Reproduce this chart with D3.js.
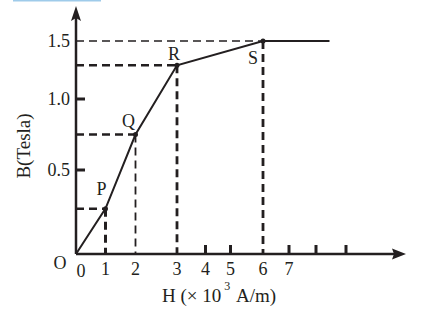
<!DOCTYPE html>
<html lang="en">
<head>
<meta charset="UTF-8">
<title>B-H curve</title>
<script src="https://d3js.org/d3.v7.min.js"></script>
<style>
    body { margin: 0; background: #fff; }
    svg text { font-family: "Liberation Serif", "Times New Roman", serif; fill: #231f20; }
</style>
</head>
<body>
<div id="chart"></div>
<script>
    // data
    const pointNames = ["P", "Q", "R", "S"];
    const hValues = [1, 2, 3, 6];          // x 10^3 A/m
    const bValues = [0.27, 0.75, 1.29, 1.5]; // Tesla
    const curveEnd = [8.45, 1.5];
    const xTickLabels = [0, 1, 2, 3, 4, 5, 6, 7];
    const xTickMarks = [4, 5, 7, 8, 9];
    const yTickLabels = [0.5, 1.0, 1.5];
    const yTickMarks = [0.5, 1.0];

    const W = 424, H = 309;
    const ink = "#231f20";

    const svg = d3.select("#chart").append("svg")
        .attr("width", W).attr("height", H);

    // the axes in the drawing are not evenly spaced, so piecewise scales
    const x = d3.scaleLinear()
        .domain([0, 1, 2, 3, 4, 5, 6, 7, 8, 9])
        .range([76, 105.5, 135.5, 177, 205.5, 230.5, 263, 289, 316, 346]);
    const y = d3.scaleLinear()
        .domain([0, 0.5, 1, 1.5])
        .range([254, 170, 99, 41]);

    // light blue bar at the very top
    svg.append("rect")
        .attr("x", 13).attr("y", 0).attr("width", 88).attr("height", 1.5)
        .attr("fill", "#9fcbea");

    const pts = pointNames.map((n, i) => ({name: n, h: hValues[i], b: bValues[i]}));

    // dashed guides
    const hWidth = {P: 2.5, Q: 2.5, R: 2.5, S: 1.6};
    const vWidth = {P: 3, Q: 1.8, R: 2.8, S: 2.8};
    pts.forEach(p => {
        svg.append("line")
            .attr("x1", x(0)).attr("x2", x(p.h))
            .attr("y1", y(p.b)).attr("y2", y(p.b))
            .attr("stroke", ink).attr("stroke-width", hWidth[p.name])
            .attr("stroke-dasharray", "8,5");
        svg.append("line")
            .attr("x1", x(p.h)).attr("x2", x(p.h))
            .attr("y1", y(p.b)).attr("y2", y(0))
            .attr("stroke", ink).attr("stroke-width", vWidth[p.name])
            .attr("stroke-dasharray", "8,5");
    });

    // axes with arrow heads
    svg.append("line")
        .attr("x1", x(0)).attr("x2", 396)
        .attr("y1", y(0)).attr("y2", y(0))
        .attr("stroke", ink).attr("stroke-width", 2.5);
    svg.append("path")
        .attr("d", `M406,${y(0)} L392,${y(0) - 5.5} L394,${y(0)} L392,${y(0) + 5.5} Z`)
        .attr("fill", ink);
    svg.append("line")
        .attr("x1", x(0)).attr("x2", x(0))
        .attr("y1", y(0)).attr("y2", 16)
        .attr("stroke", ink).attr("stroke-width", 2.5);
    svg.append("path")
        .attr("d", `M${x(0)},6 L${x(0) - 5},21 L${x(0)},18 L${x(0) + 5},21 Z`)
        .attr("fill", ink);

    // tick marks
    svg.selectAll(".xtick").data(xTickMarks).enter().append("line")
        .attr("x1", d => x(d)).attr("x2", d => x(d))
        .attr("y1", y(0)).attr("y2", y(0) - 9)
        .attr("stroke", ink).attr("stroke-width", 3);
    svg.selectAll(".ytick").data(yTickMarks).enter().append("line")
        .attr("x1", x(0)).attr("x2", x(0) + 9)
        .attr("y1", d => y(d)).attr("y2", d => y(d))
        .attr("stroke", ink).attr("stroke-width", 3);

    // tick labels
    svg.selectAll(".xlab").data(xTickLabels).enter().append("text")
        .attr("x", d => x(d) + (d === 0 ? 5 : 0))
        .attr("y", d => d === 0 ? 277 : 275)
        .attr("text-anchor", "middle")
        .style("font-size", "18px")
        .text(d => d);
    svg.selectAll(".ylab").data(yTickLabels).enter().append("text")
        .attr("x", 70)
        .attr("y", d => y(d) + 5.5)
        .attr("text-anchor", "end")
        .style("font-size", "18px")
        .text(d => d.toFixed(1));

    svg.append("text")
        .attr("x", 60).attr("y", 269)
        .attr("text-anchor", "middle")
        .style("font-size", "18px")
        .text("O");

    // curve
    const curve = [[0, 0]].concat(pts.map(p => [p.h, p.b]), [curveEnd]);
    svg.append("path")
        .datum(curve)
        .attr("d", d3.line().x(d => x(d[0])).y(d => y(d[1])))
        .attr("fill", "none")
        .attr("stroke", ink)
        .attr("stroke-width", 2);

    svg.selectAll(".dot").data(pts).enter().append("circle")
        .attr("cx", d => x(d.h)).attr("cy", d => y(d.b))
        .attr("r", 2.5).attr("fill", ink);

    // point labels
    const labelOffset = {P: [-4, -14], Q: [-7, -8], R: [-3, -5], S: [-10, 23]};
    svg.selectAll(".plab").data(pts).enter().append("text")
        .attr("x", d => x(d.h) + labelOffset[d.name][0])
        .attr("y", d => y(d.b) + labelOffset[d.name][1])
        .attr("text-anchor", "middle")
        .style("font-size", "18px")
        .text(d => d.name);

    // axis titles
    svg.append("text")
        .attr("transform", "translate(30,146) rotate(-90)")
        .attr("text-anchor", "middle")
        .style("font-size", "19px")
        .text("B(Tesla)");

    const title = svg.append("text")
        .attr("x", 162).attr("y", 302)
        .style("font-size", "19px");
    title.append("tspan").text("H (\u00d7 10");
    title.append("tspan").attr("dx", 3).attr("dy", -12).style("font-size", "12px").text("3");
    title.append("tspan").attr("dx", 2).attr("dy", 12).text(" A/m)");
</script>
</body>
</html>
